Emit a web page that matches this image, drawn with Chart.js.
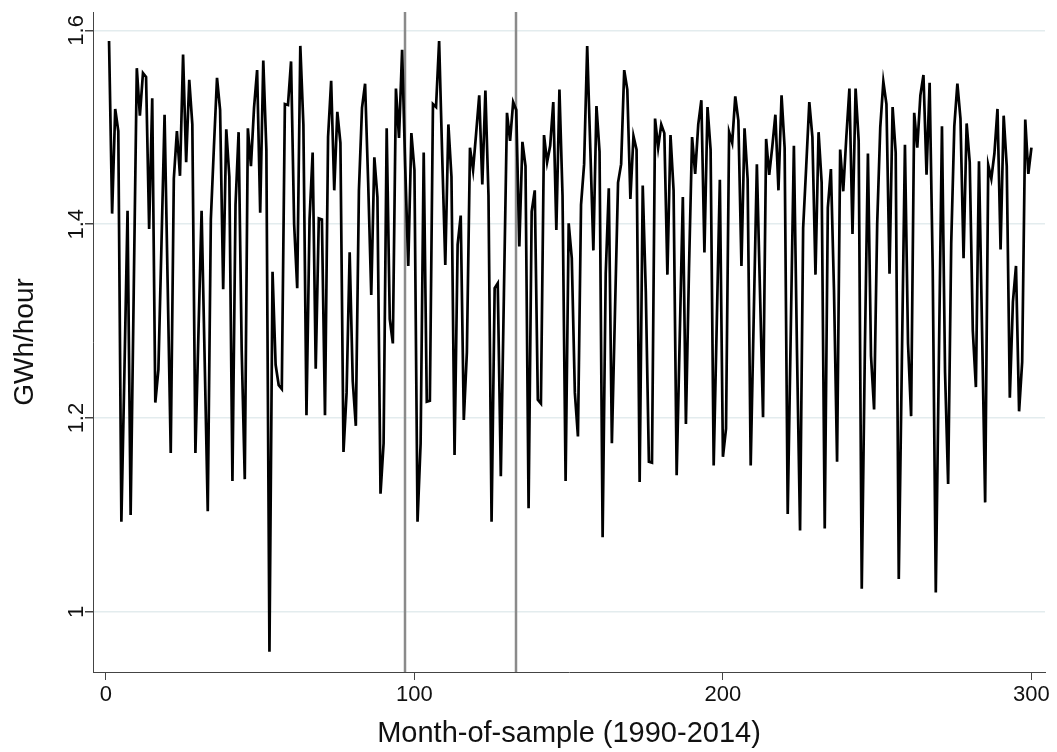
<!DOCTYPE html>
<html>
<head>
<meta charset="utf-8">
<script src="https://cdn.jsdelivr.net/npm/chart.js@4/dist/chart.umd.min.js"></script>
<style>
  html, body { margin: 0; padding: 0; background: #fff; }
</style>
</head>
<body>
<canvas id="gwhChart" width="1057" height="752"></canvas>
<script>
// monthly average load, GWh per hour, months 1..300
var gwh = [
  1.589, 1.411, 1.519, 1.496, 1.093, 1.25, 1.414, 1.100, 1.33, 1.561,
  1.512, 1.556, 1.552, 1.395, 1.530, 1.216, 1.25, 1.38, 1.513, 1.339,
  1.164, 1.447, 1.496, 1.450, 1.575, 1.464, 1.549, 1.503, 1.164, 1.29,
  1.414, 1.26, 1.104, 1.405, 1.48, 1.551, 1.518, 1.333, 1.498, 1.449,
  1.135, 1.42, 1.495, 1.27, 1.137, 1.499, 1.460, 1.52, 1.559, 1.412,
  1.569, 1.477, 0.959, 1.351, 1.255, 1.234, 1.230, 1.524, 1.523, 1.568,
  1.400, 1.334, 1.584, 1.503, 1.203, 1.405, 1.474, 1.251, 1.406, 1.405,
  1.203, 1.49, 1.548, 1.435, 1.516, 1.484, 1.165, 1.226, 1.371, 1.238,
  1.192, 1.435, 1.52, 1.545, 1.443, 1.327, 1.469, 1.428, 1.122, 1.174,
  1.499, 1.302, 1.277, 1.540, 1.489, 1.580, 1.460, 1.357, 1.494, 1.456,
  1.093, 1.174, 1.474, 1.217, 1.218, 1.524, 1.521, 1.589, 1.47, 1.358,
  1.503, 1.449, 1.162, 1.379, 1.409, 1.198, 1.268, 1.479, 1.456, 1.494,
  1.533, 1.441, 1.538, 1.430, 1.093, 1.334, 1.339, 1.140, 1.328, 1.515,
  1.486, 1.526, 1.518, 1.377, 1.485, 1.460, 1.107, 1.413, 1.435, 1.219,
  1.215, 1.492, 1.464, 1.481, 1.526, 1.394, 1.539, 1.43, 1.135, 1.401,
  1.365, 1.226, 1.181, 1.420, 1.462, 1.584, 1.479, 1.373, 1.522, 1.475,
  1.077, 1.349, 1.437, 1.174, 1.309, 1.443, 1.462, 1.559, 1.539, 1.426,
  1.491, 1.477, 1.134, 1.440, 1.33, 1.155, 1.154, 1.509, 1.479, 1.503,
  1.494, 1.348, 1.492, 1.435, 1.141, 1.284, 1.428, 1.194, 1.354, 1.490,
  1.452, 1.503, 1.528, 1.371, 1.521, 1.477, 1.151, 1.298, 1.446, 1.160,
  1.189, 1.495, 1.484, 1.532, 1.507, 1.357, 1.499, 1.447, 1.151, 1.307,
  1.462, 1.332, 1.201, 1.488, 1.451, 1.48, 1.513, 1.435, 1.533, 1.479,
  1.101, 1.292, 1.481, 1.27, 1.084, 1.396, 1.46, 1.526, 1.490, 1.348,
  1.495, 1.443, 1.086, 1.417, 1.457, 1.332, 1.155, 1.477, 1.434, 1.490,
  1.540, 1.390, 1.540, 1.486, 1.024, 1.268, 1.473, 1.264, 1.209, 1.40,
  1.50, 1.547, 1.524, 1.349, 1.521, 1.474, 1.034, 1.258, 1.482, 1.277,
  1.202, 1.515, 1.479, 1.533, 1.554, 1.451, 1.546, 1.354, 1.020, 1.26,
  1.501, 1.247, 1.132, 1.38, 1.501, 1.545, 1.509, 1.365, 1.504, 1.464,
  1.290, 1.232, 1.465, 1.290, 1.113, 1.461, 1.447, 1.473, 1.519, 1.374,
  1.512, 1.460, 1.221, 1.32, 1.357, 1.207, 1.258, 1.508, 1.452, 1.479
];
var firstMonth = 1;
var xTicks = [0, 100, 200, 300];
var yTicks = [1, 1.2, 1.4, 1.6];
var markerMonths = [97, 133];

var fontFamily = '"Liberation Sans", Arial, sans-serif';

var points = gwh.map(function (v, i) {
  return { x: firstMonth + i, y: v };
});

// vertical reference lines + rotated y tick labels (Stata style)
var extras = {
  id: 'extras',
  beforeDatasetsDraw: function (chart) {
    var ctx = chart.ctx, area = chart.chartArea, xs = chart.scales.x;
    ctx.save();
    ctx.strokeStyle = '#8a8a8a';
    ctx.lineWidth = 2.5;
    markerMonths.forEach(function (m) {
      var px = Math.round(xs.getPixelForValue(m));
      ctx.beginPath();
      ctx.moveTo(px, area.top);
      ctx.lineTo(px, area.bottom);
      ctx.stroke();
    });
    ctx.restore();
  },
  afterDraw: function (chart) {
    var ctx = chart.ctx, ys = chart.scales.y;
    ctx.save();
    ctx.fillStyle = '#111';
    ctx.font = '22px ' + fontFamily;
    ctx.textAlign = 'center';
    ctx.textBaseline = 'middle';
    yTicks.forEach(function (v) {
      ctx.save();
      ctx.translate(ys.right - 16, ys.getPixelForValue(v));
      ctx.rotate(-Math.PI / 2);
      ctx.fillText(String(v), 0, 0);
      ctx.restore();
    });
    ctx.restore();
  }
};

var ctx = document.getElementById('gwhChart').getContext('2d');
var chart = new Chart(ctx, {
  type: 'line',
  data: {
    datasets: [{
      data: points,
      borderColor: '#000',
      borderWidth: 2.7,
      pointRadius: 0,
      tension: 0,
      fill: false
    }]
  },
  options: {
    responsive: false,
    animation: false,
    devicePixelRatio: 1,
    layout: { padding: { top: 12, right: 12, left: 0, bottom: 0 } },
    plugins: {
      legend: { display: false },
      tooltip: { enabled: false }
    },
    scales: {
      x: {
        type: 'linear',
        min: -4.2,
        max: 304.4,
        afterBuildTicks: function (s) {
          s.ticks = xTicks.map(function (v) { return { value: v }; });
        },
        afterFit: function (s) { s.height = 80; },
        grid: { drawOnChartArea: false, tickLength: 8, color: '#444', tickColor: '#444' },
        border: { color: '#444', width: 1 },
        ticks: {
          color: '#111',
          maxRotation: 0,
          padding: 2,
          font: { family: fontFamily, size: 22 }
        },
        title: {
          display: true,
          text: 'Month-of-sample (1990-2014)',
          color: '#111',
          font: { family: fontFamily, size: 29 },
          padding: { top: 0, bottom: 1 }
        }
      },
      y: {
        min: 0.938,
        max: 1.619,
        afterBuildTicks: function (s) {
          s.ticks = yTicks.map(function (v) { return { value: v }; });
        },
        afterFit: function (s) { s.width = 93; },
        grid: { color: '#e3ecee', lineWidth: 1.5, tickLength: 8, tickColor: '#444' },
        border: { color: '#444', width: 1 },
        ticks: { display: false },
        title: {
          display: true,
          text: 'GWh/hour',
          color: '#111',
          font: { family: fontFamily, size: 28 },
          padding: { top: 8, bottom: 0 }
        }
      }
    }
  },
  plugins: [extras]
});
</script>
</body>
</html>
